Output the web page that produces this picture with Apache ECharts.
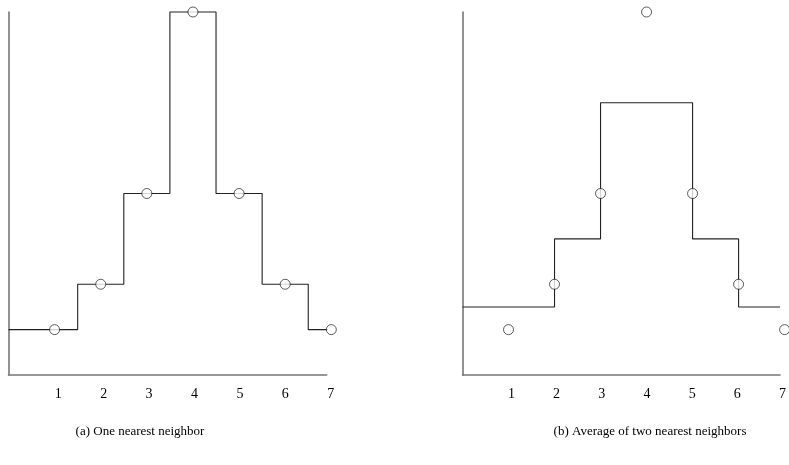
<!DOCTYPE html>
<html><head><meta charset="utf-8">
<script src="https://cdn.jsdelivr.net/npm/echarts@6/dist/echarts.min.js"></script>
<style>html,body{margin:0;padding:0;background:#fff}#c{width:789px;height:465px}</style>
</head><body><div id="c"></div>
<script>
// data
var xs = [1, 2, 3, 4, 5, 6, 7];
var ys = [1, 2, 4, 8, 4, 2, 1];
var tickLabels = ['1', '2', '3', '4', '5', '6', '7'];
// (a) one nearest neighbour: breakpoints and values
var stepA_x = [0, 1.5, 2.5, 3.5, 4.5, 5.5, 6.5, 7];
var stepA_v = [1, 2, 4, 8, 4, 2, 1];
// (b) average of two nearest neighbours
var stepB_x = [0, 2, 3, 5, 6, 6.9];
var stepB_v = [1.5, 3, 6, 3, 1.5];
var captionA = '(a) One nearest neighbor';
var captionB = '(b) Average of two nearest neighbors';

function stepPts(bx, bv) {
  var out = [];
  for (var i = 0; i < bv.length; i++) { out.push([bx[i], bv[i]]); out.push([bx[i + 1], bv[i]]); }
  return out;
}
var pts = xs.map(function (x, i) { return [x, ys[i]]; });
var FONT = '"Liberation Serif", "DejaVu Serif", serif';
var axisCol = '#777';

function mainX(g) {
  return { type: 'value', gridIndex: g, min: 0, max: 6.9, interval: 1,
    axisLine: { show: true, onZero: false, lineStyle: { color: axisCol, width: 1.6 } },
    axisTick: { show: false }, axisLabel: { show: false }, splitLine: { show: false } };
}
function labelX(g) {
  return { type: 'value', gridIndex: g, min: 0, max: 7, interval: 1,
    axisLine: { show: false }, axisTick: { show: false }, splitLine: { show: false },
    axisLabel: { show: true, margin: 12, color: '#000', fontFamily: FONT, fontSize: 14,
      formatter: function (v) { var i = xs.indexOf(v); return i >= 0 ? tickLabels[i] : ''; } } };
}
function mainY(g) {
  return { type: 'value', gridIndex: g, min: 0, max: 8,
    axisLine: { show: true, onZero: false, lineStyle: { color: axisCol, width: 1.6 } },
    axisTick: { show: false }, axisLabel: { show: false }, splitLine: { show: false } };
}
function labelY(g) {
  return { type: 'value', gridIndex: g, min: 0, max: 8, show: false };
}
var lineStyle = { color: '#222', width: 1.1 };
var scatterStyle = { color: '#fff', borderColor: '#000', borderWidth: 0.8 };

var option = {
  animation: false,
  grid: [
    { left: 8.5, right: 462.3, top: 12, bottom: 90 },
    { left: 462.5, right: 9, top: 12, bottom: 90 },
    { left: 12.9, right: 789 - 330.7, top: 12, bottom: 90 },
    { left: 466.2, right: 789 - 785, top: 12, bottom: 90 }
  ],
  xAxis: [mainX(0), mainX(1), labelX(2), labelX(3)],
  yAxis: [mainY(0), mainY(1), labelY(2), labelY(3)],
  series: [
    { type: 'line', xAxisIndex: 0, yAxisIndex: 0, data: stepPts(stepA_x, stepA_v), symbol: 'none', clip: false, lineStyle: lineStyle },
    { type: 'scatter', xAxisIndex: 0, yAxisIndex: 0, data: pts, symbol: 'circle', symbolSize: 10, clip: false, itemStyle: scatterStyle, z: 5 },
    { type: 'line', xAxisIndex: 1, yAxisIndex: 1, data: stepPts(stepB_x, stepB_v), symbol: 'none', clip: false, lineStyle: lineStyle },
    { type: 'scatter', xAxisIndex: 1, yAxisIndex: 1, data: pts, symbol: 'circle', symbolSize: 10, clip: false, itemStyle: scatterStyle, z: 5 }
  ],
  graphic: [
    { type: 'text', x: 140, y: 432, style: { text: captionA, fontFamily: FONT, fontSize: 13, fill: '#000', align: 'center', verticalAlign: 'middle' } },
    { type: 'text', x: 650, y: 432, style: { text: captionB, fontFamily: FONT, fontSize: 13, fill: '#000', align: 'center', verticalAlign: 'middle' } }
  ]
};
var chart = echarts.init(document.getElementById('c'), null, { renderer: 'canvas' });
chart.setOption(option);
</script>
</body></html>
